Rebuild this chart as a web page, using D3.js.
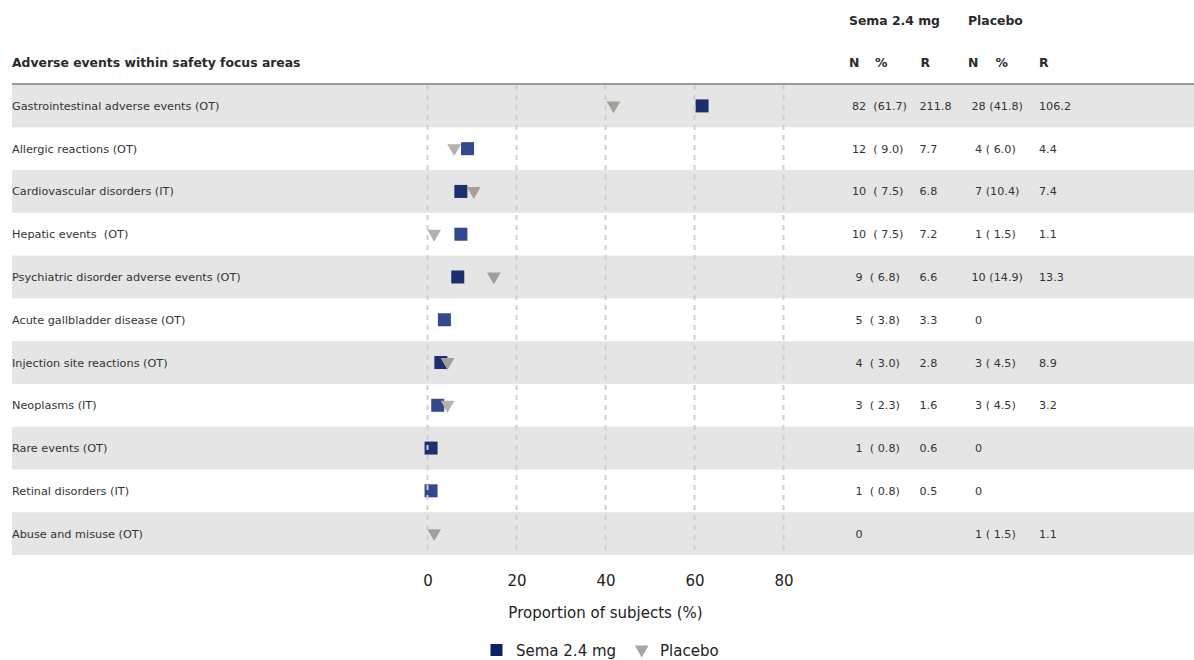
<!DOCTYPE html>
<html>
<head>
<meta charset="utf-8">
<script src="https://cdn.jsdelivr.net/npm/d3@7"></script>
<style>
  html, body { margin: 0; padding: 0; background: #fff; }
  svg { display: block; font-family: "DejaVu Sans", sans-serif; }
  text { white-space: pre; }
</style>
</head>
<body>
<svg id="chart" width="1194" height="660"></svg>
<script>
// Adverse events within safety focus areas: proportion of subjects per arm
const categories = [
  "Gastrointestinal adverse events (OT)",
  "Allergic reactions (OT)",
  "Cardiovascular disorders (IT)",
  "Hepatic events  (OT)",
  "Psychiatric disorder adverse events (OT)",
  "Acute gallbladder disease (OT)",
  "Injection site reactions (OT)",
  "Neoplasms (IT)",
  "Rare events (OT)",
  "Retinal disorders (IT)",
  "Abuse and misuse (OT)"
];
const semaN    = [82, 12, 10, 10, 9, 5, 4, 3, 1, 1, 0];
const semaPct  = [61.7, 9.0, 7.5, 7.5, 6.8, 3.8, 3.0, 2.3, 0.8, 0.8, null];
const semaRate = [211.8, 7.7, 6.8, 7.2, 6.6, 3.3, 2.8, 1.6, 0.6, 0.5, null];
const placN    = [28, 4, 7, 1, 10, 0, 3, 3, 0, 0, 1];
const placPct  = [41.8, 6.0, 10.4, 1.5, 14.9, null, 4.5, 4.5, null, null, 1.5];
const placRate = [106.2, 4.4, 7.4, 1.1, 13.3, null, 8.9, 3.2, null, null, 1.1];
const xTicks   = [0, 20, 40, 60, 80];
const armLabels = ["Sema 2.4 mg", "Placebo"];
const colHeads  = ["N", "%", "R"];

const svg = d3.select("#chart");
const x = d3.scaleLinear().domain([0, 80]).range([427.5, 783.5]);
const y = d3.scaleBand().domain(d3.range(categories.length)).range([84.5, 555]);
const rowMid = i => y(i) + y.bandwidth() / 2;
const isShaded = i => i % 2 === 0;

// Alternating row bands
svg.append("g").selectAll("rect")
  .data(d3.range(categories.length).filter(isShaded))
  .join("rect")
  .attr("x", 12).attr("width", 1182)
  .attr("y", i => y(i)).attr("height", y.bandwidth())
  .attr("fill", "#e5e5e5");

// Header rule
svg.append("line")
  .attr("x1", 12).attr("x2", 1194).attr("y1", 84).attr("y2", 84)
  .attr("stroke", "#9a9a9a").attr("stroke-width", 2);

// Headers
const bold = { "font-weight": "bold", "font-size": "12.4px", fill: "#2a2a2a" };
function boldText(t, px, py) {
  const el = svg.append("text").attr("x", px).attr("y", py).text(t);
  Object.entries(bold).forEach(([k, v]) => el.attr(k, v));
}
boldText("Adverse events within safety focus areas", 12, 66.5);
boldText(armLabels[0], 849, 24.5);
boldText(armLabels[1], 968, 24.5);
[849, 875, 920.5].forEach((px, k) => boldText(colHeads[k], px, 66.5));
[968, 995.5, 1039].forEach((px, k) => boldText(colHeads[k], px, 66.5));

// Row labels
svg.append("g").selectAll("text")
  .data(categories)
  .join("text")
  .attr("x", 12).attr("y", (d, i) => rowMid(i) + 4)
  .attr("font-size", "11.25px").attr("fill", "#333")
  .text(d => d);

// Markers: semaglutide squares, placebo triangles drawn above
const sq = 13;
svg.append("g").selectAll("rect")
  .data(semaPct.map((v, i) => ({ v, i })).filter(d => d.v !== null))
  .join("rect")
  .attr("x", d => x(d.v) - sq / 2).attr("y", d => rowMid(d.i) - sq / 2)
  .attr("width", sq).attr("height", sq)
  .attr("fill", d => isShaded(d.i) ? "#1b2e6e" : "#33498b");

const tri = d3.symbol().type(d3.symbolTriangle).size(82);
svg.append("g").selectAll("path")
  .data(placPct.map((v, i) => ({ v, i })).filter(d => d.v !== null))
  .join("path")
  .attr("d", tri)
  .attr("transform", d => `translate(${x(d.v)},${rowMid(d.i) - 0.5}) rotate(180)`)
  .attr("fill", d => isShaded(d.i) ? "#a39f99" : "#b5b1ab");

// Dashed vertical grid
svg.append("g").selectAll("line")
  .data(xTicks)
  .join("line")
  .attr("x1", d => x(d)).attr("x2", d => x(d))
  .attr("y1", 85).attr("y2", 555)
  .attr("stroke", "#cfcfcf").attr("stroke-width", 2)
  .attr("stroke-dasharray", "5,5");

// X axis labels
const axis = svg.append("g")
  .attr("transform", "translate(0,575.8)")
  .call(d3.axisBottom(x).tickValues(xTicks).tickSize(0).tickPadding(0).tickFormat(d3.format("d")));
axis.select(".domain").remove();
axis.selectAll("text")
  .attr("font-family", "DejaVu Sans").attr("font-size", "15px").attr("fill", "#222");

svg.append("text")
  .attr("x", x(40)).attr("y", 617.5).attr("text-anchor", "middle")
  .attr("font-size", "15px").attr("fill", "#222")
  .text("Proportion of subjects (%)");

// Table columns
const pad = (s, w) => (" ".repeat(w) + s).slice(-w);
const nPct = (n, p, gap) => p === null ? pad(String(n), 2) : `${pad(String(n), 2)}${gap}(${pad(p.toFixed(1), 4)})`;
const tbl = svg.append("g").attr("font-size", "11.2px").attr("fill", "#333");
categories.forEach((c, i) => {
  const yy = rowMid(i) + 4;
  tbl.append("text").attr("x", 852).attr("y", yy).text(nPct(semaN[i], semaPct[i], "  "));
  if (semaRate[i] !== null) tbl.append("text").attr("x", 919.5).attr("y", yy).text(semaRate[i].toFixed(1));
  tbl.append("text").attr("x", 971.5).attr("y", yy).text(nPct(placN[i], placPct[i], " "));
  if (placRate[i] !== null) tbl.append("text").attr("x", 1039).attr("y", yy).text(placRate[i].toFixed(1));
});

// Legend
const lg = svg.append("g");
lg.append("rect").attr("x", 490.5).attr("y", 644).attr("width", 12).attr("height", 12).attr("fill", "#0c2164");
lg.append("text").attr("x", 516).attr("y", 655.5).attr("font-size", "15px").attr("fill", "#222").text(armLabels[0]);
lg.append("path").attr("d", tri).attr("transform", "translate(641.7,649.5) rotate(180)").attr("fill", "#a9a59f");
lg.append("text").attr("x", 660).attr("y", 655.5).attr("font-size", "15px").attr("fill", "#222").text(armLabels[1]);
</script>
</body>
</html>
